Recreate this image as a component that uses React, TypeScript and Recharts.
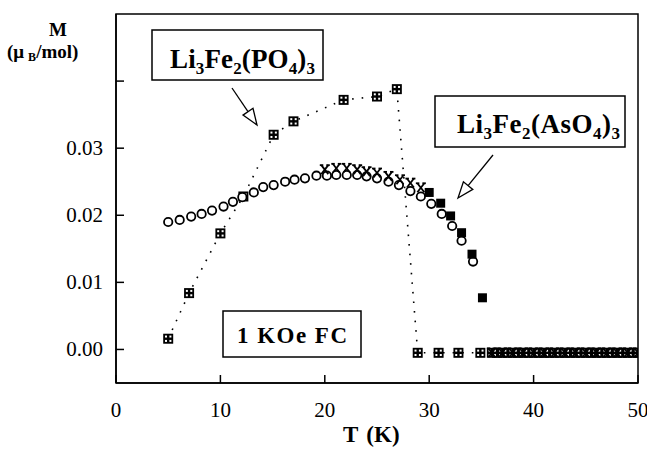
import { ReferenceArea, Scatter, ScatterChart, XAxis, YAxis } from 'recharts'

const FONT = '"Liberation Serif", "Times New Roman", serif'

// Li3Fe2(PO4)3, field-cooled 1 kOe
const PO4_T = [
  5, 7, 10, 12.2, 15.1, 17, 21.8, 25, 26.9, 28.9, 30.9, 32.8, 34.9,
  36, 36.5, 37, 37.5, 38, 38.5, 39, 39.5, 40, 40.5, 41, 41.5, 42, 42.5, 43,
  43.5, 44, 44.5, 45, 45.5, 46, 46.5, 47, 47.5, 48, 48.5, 49, 49.5, 50,
]
const PO4_M = [
  0.0016, 0.0084, 0.0173, 0.0228, 0.032, 0.034, 0.0372, 0.0377, 0.0388, -0.0005, -0.0005, -0.0005, -0.0005,
  -0.0005, -0.0005, -0.0005, -0.0005, -0.0005, -0.0005, -0.0005, -0.0005, -0.0005, -0.0005, -0.0005, -0.0005, -0.0005, -0.0005, -0.0005,
  -0.0005, -0.0005, -0.0005, -0.0005, -0.0005, -0.0005, -0.0005, -0.0005, -0.0005, -0.0005, -0.0005, -0.0005, -0.0005, -0.0005,
]

// Li3Fe2(AsO4)3, open circles
const ASO4_CIRCLE_T = [
  5, 6.1, 7.2, 8.2, 9.2, 10.3, 11.2, 12.1, 13.2, 14.1, 15.1, 16.2, 17.1, 18.1, 19.2,
  20.2, 21.1, 22.1, 23.1, 24, 25, 26.1, 27.1, 28.2, 29.2, 30.2, 31.2, 32.2, 33.1, 34.2,
]
const ASO4_CIRCLE_M = [
  0.019, 0.0193, 0.0198, 0.0202, 0.0207, 0.0213, 0.022, 0.0227, 0.0234, 0.0242, 0.0245, 0.025, 0.0253, 0.0255, 0.0259,
  0.0259, 0.026, 0.026, 0.026, 0.0258, 0.0255, 0.025, 0.0245, 0.0236, 0.0228, 0.0217, 0.0202, 0.0184, 0.0162, 0.0131,
]

// Li3Fe2(AsO4)3, crosses
const ASO4_CROSS_T = [
  20, 21.1, 22.1, 23.1, 24, 25, 26.1, 27.2, 28.2, 29.2,
  36, 37, 38, 39, 40, 41, 42, 43, 44, 45, 46, 47, 48, 49, 50,
]
const ASO4_CROSS_M = [
  0.0268, 0.027, 0.027, 0.0268, 0.0265, 0.0263, 0.0258, 0.0253, 0.0248, 0.0241,
  -0.0005, -0.0005, -0.0005, -0.0005, -0.0005, -0.0005, -0.0005, -0.0005, -0.0005, -0.0005, -0.0005, -0.0005, -0.0005, -0.0005, -0.0005,
]

// Li3Fe2(AsO4)3, filled points near the transition
const ASO4_FILLED_T = [30, 31.1, 32.05, 33.1, 34.1, 35.1]
const ASO4_FILLED_M = [0.0234, 0.0218, 0.0199, 0.0174, 0.0142, 0.0077]

const X_TICKS = [0, 10, 20, 30, 40, 50]
const Y_TICKS = [0, 0.01, 0.02, 0.03, 0.04]
const Y_TICK_LABELS = ['0.00', '0.01', '0.02', '0.03', '']

const zip = (t: number[], m: number[]) => t.map((T, i) => ({ T, M: m[i] }))

const po4Data = zip(PO4_T, PO4_M)
const circleData = zip(ASO4_CIRCLE_T, ASO4_CIRCLE_M)
const crossData = zip(ASO4_CROSS_T, ASO4_CROSS_M)
const filledData = zip(ASO4_FILLED_T, ASO4_FILLED_M)

function HatchSquare({ cx, cy }: any) {
  if (cx == null || cy == null) return null
  return (
    <g>
      <rect x={cx - 5} y={cy - 5} width={10} height={10} fill="#000" />
      <rect x={cx - 3.2} y={cy - 3.2} width={2} height={2} fill="#fff" />
      <rect x={cx + 1.2} y={cy - 3.2} width={2} height={2} fill="#fff" />
      <rect x={cx - 3.2} y={cy + 1.2} width={2} height={2} fill="#fff" />
      <rect x={cx + 1.2} y={cy + 1.2} width={2} height={2} fill="#fff" />
    </g>
  )
}

function OpenCircle({ cx, cy }: any) {
  if (cx == null || cy == null) return null
  return <circle cx={cx} cy={cy} r={4.2} fill="#fff" stroke="#000" strokeWidth={1.8} />
}

function Cross({ cx, cy }: any) {
  if (cx == null || cy == null) return null
  return (
    <g stroke="#000" strokeWidth={1.8}>
      <line x1={cx - 3.5} y1={cy - 4.5} x2={cx + 3.5} y2={cy + 4.5} />
      <line x1={cx + 3.5} y1={cy - 4.5} x2={cx - 3.5} y2={cy + 4.5} />
      <line x1={cx - 5} y1={cy - 4.5} x2={cx - 1.5} y2={cy - 4.5} />
      <line x1={cx + 1.5} y1={cy - 4.5} x2={cx + 5} y2={cy - 4.5} />
    </g>
  )
}

function FilledSquare({ cx, cy }: any) {
  if (cx == null || cy == null) return null
  return <rect x={cx - 4.5} y={cy - 4.5} width={9} height={9} fill="#000" />
}

function YTick({ x, y, index }: any) {
  return (
    <g>
      <line x1={x} x2={x + 8} y1={y} y2={y} stroke="#000" strokeWidth={1.5} />
      <text x={x - 13} y={y + 7} textAnchor="end" fontFamily={FONT} fontSize={21} fill="#000">
        {Y_TICK_LABELS[index]}
      </text>
    </g>
  )
}

function XTick({ x, y, payload }: any) {
  return (
    <g>
      <line x1={x} x2={x} y1={y} y2={y - 8} stroke="#000" strokeWidth={1.5} />
      <text x={x} y={y + 34} textAnchor="middle" fontFamily={FONT} fontSize={21} fill="#000">
        {payload.value}
      </text>
    </g>
  )
}

function Formula({ x, y, width, anion }: { x: number; y: number; width: number; anion: string }) {
  return (
    <text x={x} y={y} fontSize={27} textLength={width} lengthAdjust="spacing">
      Li
      <tspan dy={6} fontSize={17}>3</tspan>
      <tspan dy={-6}>Fe</tspan>
      <tspan dy={6} fontSize={17}>2</tspan>
      <tspan dy={-6}>({anion}</tspan>
      <tspan dy={6} fontSize={17}>4</tspan>
      <tspan dy={-6}>)</tspan>
      <tspan dy={6} fontSize={17}>3</tspan>
    </text>
  )
}

function Annotations() {
  return (
    <svg
      width={647}
      height={453}
      style={{ position: 'absolute', left: 0, top: 0, pointerEvents: 'none' }}
      fontFamily={FONT}
      fontWeight="bold"
    >
      {/* y-axis title */}
      <text x={58} y={36} textAnchor="middle" fontSize={19}>M</text>
      <text x={7} y={58} fontSize={19}>
        (μ<tspan dx={4} dy={3} fontSize={12}>B</tspan><tspan dy={-3}>/mol)</tspan>
      </text>

      {/* x-axis title */}
      <text x={343} y={442} fontSize={23}>
        T<tspan dx={8}>(K)</tspan>
      </text>

      {/* PO4 label */}
      <rect x={152} y={30} width={171} height={50} fill="#fff" stroke="#000" strokeWidth={1.5} />
      <Formula x={170} y={68} width={145} anion="PO" />
      <line x1={232} y1={88} x2={248} y2={111.7} stroke="#000" strokeWidth={1.3} />
      <polygon points="257,125 243,115.1 253,108.3" fill="#fff" stroke="#000" strokeWidth={1.3} />

      {/* AsO4 label */}
      <rect x={435} y={96} width={190} height={51} fill="#fff" stroke="#000" strokeWidth={1.5} />
      <Formula x={457} y={133} width={163} anion="AsO" />
      <line x1={493} y1={155} x2={468.1} y2={185.6} stroke="#000" strokeWidth={1.3} />
      <polygon points="458,198 472.8,189.4 463.4,181.8" fill="#fff" stroke="#000" strokeWidth={1.3} />

      {/* field label */}
      <rect x={223} y={311} width={138} height={46} fill="#fff" stroke="#000" strokeWidth={1.5} />
      <text x={237} y={343} fontSize={23} textLength={110} lengthAdjust="spacing">
        1 KOe FC
      </text>
    </svg>
  )
}

export default function App() {
  return (
    <div style={{ position: 'absolute', left: 0, top: 0, width: 647, height: 453, background: '#fff' }}>
      <ScatterChart width={647} height={453} margin={{ top: 14, right: 9, bottom: 40, left: 56 }}>
        <XAxis
          type="number"
          dataKey="T"
          domain={[0, 50]}
          ticks={X_TICKS}
          tick={<XTick />}
          tickLine={false}
          tickSize={0}
          tickMargin={0}
          axisLine={{ stroke: '#000', strokeWidth: 1.5 }}
          height={30}
          allowDataOverflow
        />
        <YAxis
          type="number"
          dataKey="M"
          domain={[-0.005, 0.05]}
          ticks={Y_TICKS}
          tick={<YTick />}
          tickLine={false}
          tickSize={0}
          tickMargin={0}
          axisLine={{ stroke: '#000', strokeWidth: 1.5 }}
          width={60}
          allowDataOverflow
        />
        <ReferenceArea
          x1={0}
          x2={50}
          y1={-0.005}
          y2={0.05}
          fill="none"
          stroke="#000"
          strokeWidth={1.5}
          ifOverflow="visible"
        />
        <Scatter
          data={po4Data}
          shape={<HatchSquare />}
          line={{ stroke: '#000', strokeWidth: 1.6, strokeDasharray: '1.6 8' }}
          lineType="joint"
          isAnimationActive={false}
        />
        <Scatter data={circleData} shape={<OpenCircle />} isAnimationActive={false} />
        <Scatter data={crossData} shape={<Cross />} isAnimationActive={false} />
        <Scatter data={filledData} shape={<FilledSquare />} isAnimationActive={false} />
      </ScatterChart>
      <Annotations />
    </div>
  )
}
